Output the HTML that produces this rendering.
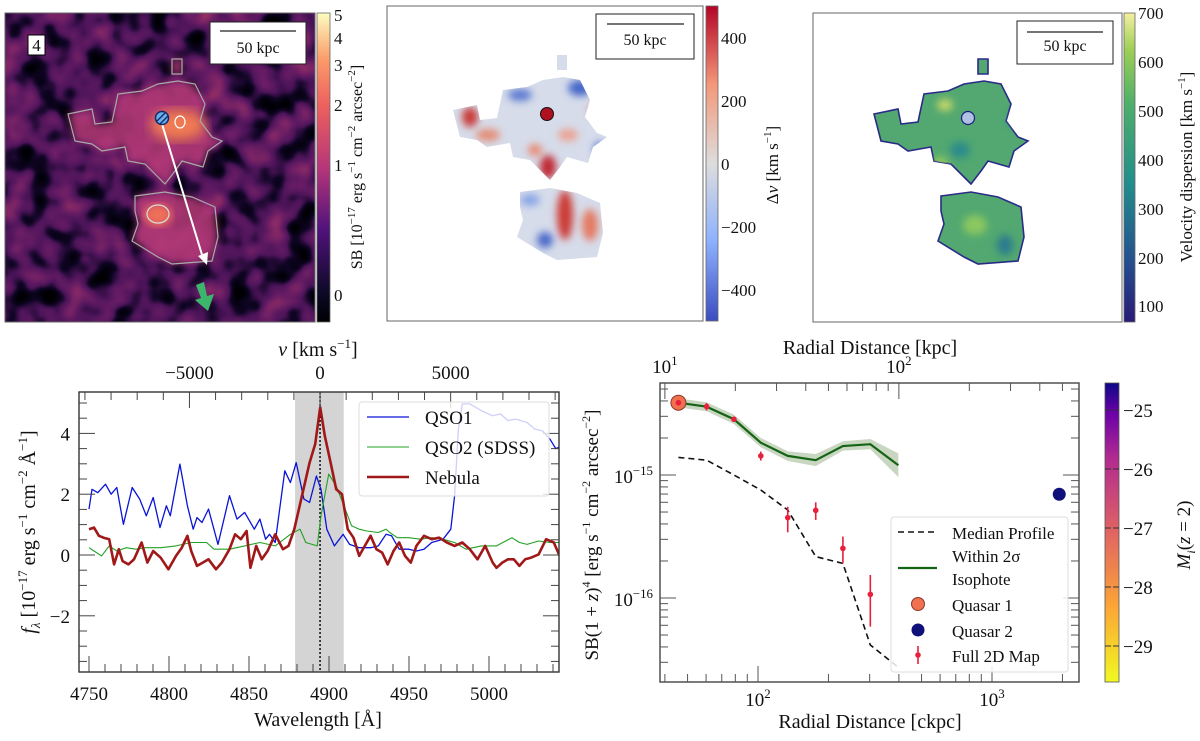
<!DOCTYPE html>
<html><head><meta charset="utf-8"><style>
html,body{margin:0;padding:0;background:#fff;}
svg{display:block;font-family:"Liberation Serif",serif;}
text{fill:#111;}
</style></head><body>
<svg id="fig" width="1200" height="741" viewBox="0 0 1200 741" xmlns="http://www.w3.org/2000/svg">
<defs>
<filter id="noise" x="0" y="0" width="1" height="1" color-interpolation-filters="sRGB">
<feTurbulence type="fractalNoise" baseFrequency="0.035" numOctaves="2" seed="7"/>
<feColorMatrix type="matrix" values="1 0 0 0 0 1 0 0 0 0 1 0 0 0 0 0 0 0 0 1"/>
<feComponentTransfer>
<feFuncR type="table" tableValues="0 0 0 0.06 0.3 0.4 0.5 0.62 0.75"/>
<feFuncG type="table" tableValues="0 0 0 0.02 0.08 0.11 0.15 0.2 0.25"/>
<feFuncB type="table" tableValues="0 0 0.02 0.14 0.35 0.39 0.4 0.38 0.36"/>
</feComponentTransfer>
</filter>
<filter id="blur4"><feGaussianBlur stdDeviation="4"/></filter>
<filter id="blur6"><feGaussianBlur stdDeviation="6"/></filter>
<linearGradient id="magma" x1="0" y1="1" x2="0" y2="0">
<stop offset="0" stop-color="#000004"/><stop offset="0.09" stop-color="#0b0924"/><stop offset="0.3" stop-color="#51127c"/><stop offset="0.5" stop-color="#b63679"/><stop offset="0.7" stop-color="#ee605e"/><stop offset="0.85" stop-color="#fb9b6a"/><stop offset="1" stop-color="#fcfdbf"/>
</linearGradient>
<linearGradient id="coolwarm" x1="0" y1="1" x2="0" y2="0">
<stop offset="0" stop-color="#3b4cc0"/><stop offset="0.25" stop-color="#8db0fe"/><stop offset="0.5" stop-color="#dddddd"/><stop offset="0.75" stop-color="#f4987a"/><stop offset="1" stop-color="#b40426"/>
</linearGradient>
<linearGradient id="viridis" x1="0" y1="1" x2="0" y2="0">
<stop offset="0" stop-color="#2a1a78"/><stop offset="0.2" stop-color="#23508f"/><stop offset="0.45" stop-color="#218e8c"/><stop offset="0.7" stop-color="#4cae6a"/><stop offset="0.88" stop-color="#9ccf55"/><stop offset="1" stop-color="#f3f0a0"/>
</linearGradient>
<linearGradient id="plasma" x1="0" y1="1" x2="0" y2="0">
<stop offset="0" stop-color="#f0f921"/><stop offset="0.25" stop-color="#fca636"/><stop offset="0.5" stop-color="#e16462"/><stop offset="0.75" stop-color="#b12a90"/><stop offset="0.9" stop-color="#6a00a8"/><stop offset="1" stop-color="#0d0887"/>
</linearGradient>
<path id="neb" d="M453,110 L477,105 L480,120 L497,118 L503,90 L527,87 L543,80 L563,77 L580,80 L590,100 L585,117 L597,133 L607,137 L593,147 L588,163 L567,157 L560,167 L550,180 L543,173 L530,160 L513,157 L510,143 L487,147 L477,140 L460,137 Z M520,192 L550,188 L577,193 L600,203 L603,233 L597,257 L557,260 L543,253 L517,237 L523,220 L520,207 Z M557,55 L567,55 L567,70 L557,70 Z"/>
<clipPath id="nebclip"><use href="#neb"/></clipPath>
<clipPath id="nebclip2"><use href="#neb" transform="translate(421,4)"/></clipPath>
<clipPath id="specclip"><rect x="79" y="392" width="480" height="280"/></clipPath>
<clipPath id="sbclip"><rect x="660" y="383" width="419" height="299"/></clipPath>
<clipPath id="p1clip"><rect x="5" y="13" width="310" height="309"/></clipPath>
</defs>

<!-- Panel 1: SB map -->
<g clip-path="url(#p1clip)">
<rect x="5" y="13" width="310" height="309" fill="#3a0f55"/>
<rect x="5" y="13" width="310" height="309" filter="url(#noise)"/>
<use href="#neb" transform="translate(-385,4)" fill="#b83a78" opacity="0.85" filter="url(#blur4)"/>
<ellipse cx="178" cy="125" rx="28" ry="16" fill="#f07a52" filter="url(#blur6)"/>
<ellipse cx="158" cy="215" rx="14" ry="11" fill="#ee7058" filter="url(#blur4)"/>
<use href="#neb" transform="translate(-385,4)" fill="none" stroke="#aaa" stroke-width="1.2"/>
<ellipse cx="180" cy="122" rx="5" ry="6" fill="none" stroke="#fff" stroke-width="1.2"/>
<ellipse cx="158" cy="214" rx="11" ry="9" fill="none" stroke="#ddd" stroke-width="1.2"/>
<line x1="162" y1="124" x2="203" y2="258" stroke="#fff" stroke-width="2"/>
<polygon points="198,256 207,265 208,252" fill="#fff"/>
<polygon points="196,285 204,282 207,296 214,294 208,311 195,300 201,298" fill="#3cb66a"/>
<circle cx="162" cy="118" r="6.5" fill="#6ab0e8" stroke="#102a70" stroke-width="1.5"/>
<line x1="157" y1="121" x2="165" y2="113" stroke="#102a70" stroke-width="1.3"/>
<line x1="160" y1="124" x2="168" y2="116" stroke="#102a70" stroke-width="1.3"/>
<rect x="28" y="35" width="17" height="20" fill="#fff" stroke="#000" stroke-width="1"/>
<text x="36.5" y="51" font-size="17" text-anchor="middle">4</text>
<rect x="210" y="22" width="96" height="42" fill="#fff" stroke="#222" stroke-width="1"/>
<line x1="220" y1="31" x2="296" y2="31" stroke="#222" stroke-width="1.2"/>
<text x="258" y="53" font-size="16" text-anchor="middle">50 kpc</text>
</g>
<rect x="5" y="13" width="310" height="309" fill="none" stroke="#666" stroke-width="1"/>
<rect x="317" y="13" width="13" height="309" fill="url(#magma)" stroke="#666" stroke-width="0.8"/>
<g font-size="17">
<text x="334" y="21">5</text><text x="334" y="44">4</text><text x="334" y="71">3</text><text x="334" y="111">2</text><text x="334" y="171">1</text><text x="334" y="301">0</text>
</g>
<text transform="translate(362,167) rotate(-90)" font-size="16" text-anchor="middle">SB [10<tspan dy="-7" font-size="11">−17</tspan><tspan dy="7"> erg s</tspan><tspan dy="-7" font-size="11">−1</tspan><tspan dy="7"> cm</tspan><tspan dy="-7" font-size="11">−2</tspan><tspan dy="7"> arcsec</tspan><tspan dy="-7" font-size="11">−2</tspan><tspan dy="7">]</tspan></text>

<!-- Panel 2: velocity map -->
<g>
<rect x="387" y="6" width="316" height="315" fill="#fff" stroke="#666" stroke-width="1"/>
<use href="#neb" fill="#d6dcea"/>
<g clip-path="url(#nebclip)" filter="url(#blur4)">
<ellipse cx="470" cy="117" rx="8" ry="10" fill="#c83a38"/>
<ellipse cx="580" cy="88" rx="12" ry="8" fill="#4466c8"/>
<ellipse cx="520" cy="95" rx="12" ry="6" fill="#5a78d0"/>
<ellipse cx="548" cy="167" rx="8" ry="12" fill="#c02830"/>
<ellipse cx="535" cy="150" rx="7" ry="6" fill="#e88870"/>
<ellipse cx="568" cy="135" rx="10" ry="6" fill="#eca090"/>
<ellipse cx="600" cy="150" rx="6" ry="8" fill="#4a6ad0"/>
<ellipse cx="565" cy="215" rx="8" ry="25" fill="#cc3a34"/>
<ellipse cx="590" cy="225" rx="8" ry="16" fill="#e47a62"/>
<ellipse cx="545" cy="240" rx="8" ry="8" fill="#4a68c8"/>
<ellipse cx="530" cy="200" rx="10" ry="6" fill="#88a4e8"/>
<ellipse cx="488" cy="135" rx="12" ry="6" fill="#e48a72"/>
<ellipse cx="595" cy="110" rx="6" ry="5" fill="#e06050"/>
</g>
<circle cx="547" cy="114" r="6.5" fill="#b01020" stroke="#111" stroke-width="1"/>
<rect x="596" y="14" width="98" height="45" fill="#fff" stroke="#222" stroke-width="1"/>
<line x1="607" y1="24" x2="684" y2="24" stroke="#222" stroke-width="1.2"/>
<text x="645" y="45" font-size="16" text-anchor="middle">50 kpc</text>
</g>
<rect x="706" y="6" width="12" height="315" fill="url(#coolwarm)" stroke="#666" stroke-width="0.8"/>
<g font-size="17">
<text x="721" y="44">400</text><text x="721" y="107">200</text><text x="721" y="170">0</text><text x="721" y="233">−200</text><text x="721" y="296">−400</text>
</g>
<text transform="translate(778,165) rotate(-90)" font-size="17" text-anchor="middle">Δ<tspan font-style="italic">v</tspan> [km s<tspan dy="-7" font-size="11">−1</tspan><tspan dy="7">]</tspan></text>

<!-- Panel 3: dispersion map -->
<g>
<rect x="813" y="13" width="309" height="309" fill="#fff" stroke="#666" stroke-width="1"/>
<use href="#neb" transform="translate(421,4)" fill="#52a870" stroke="#2a2a88" stroke-width="1.6"/>
<g clip-path="url(#nebclip2)" filter="url(#blur4)">
<ellipse cx="960" cy="150" rx="10" ry="8" fill="#2a8a8c"/>
<ellipse cx="945" cy="105" rx="8" ry="6" fill="#c8d868"/>
<ellipse cx="975" cy="225" rx="12" ry="10" fill="#8cc860"/>
<ellipse cx="1005" cy="245" rx="8" ry="10" fill="#2a7a90"/>
<ellipse cx="940" cy="165" rx="8" ry="8" fill="#98cc58"/>
<ellipse cx="1015" cy="120" rx="8" ry="8" fill="#3a9488"/>
</g>
<circle cx="968" cy="118" r="6.5" fill="#b0c0e0" stroke="#1a2080" stroke-width="1.2"/>
<rect x="1017" y="21" width="96" height="43" fill="#fff" stroke="#222" stroke-width="1"/>
<line x1="1027" y1="32" x2="1103" y2="32" stroke="#222" stroke-width="1.2"/>
<text x="1065" y="51" font-size="16" text-anchor="middle">50 kpc</text>
</g>
<rect x="1124" y="13" width="11" height="309" fill="url(#viridis)" stroke="#666" stroke-width="0.8"/>
<g font-size="17">
<text x="1138" y="19">700</text><text x="1138" y="68">600</text><text x="1138" y="117">500</text><text x="1138" y="166">400</text><text x="1138" y="215">300</text><text x="1138" y="264">200</text><text x="1138" y="312">100</text>
</g>
<text transform="translate(1192,167) rotate(-90)" font-size="17" text-anchor="middle">Velocity dispersion [km s<tspan dy="-7" font-size="11">−1</tspan><tspan dy="7">]</tspan></text>

<!-- Spectrum -->
<g id="spec"></g>
<!-- SB profile -->
<g id="sb"></g>
</svg>

<script>
// ---------- Spectrum data ----------
const qso1Wave = [4750.0,4751.9,4755.5,4760.3,4763.8,4767.4,4771.5,4777.0,4781.7,4785.8,4790.1,4794.4,4798.4,4800.8,4806.8,4811.5,4815.1,4817.5,4820.6,4824.7,4830.6,4837.8,4842.5,4847.3,4853.3,4856.8,4860.4,4862.8,4866.4,4872.4,4875.9,4879.5,4884.3,4887.9,4892.1,4895.0,4898.6,4903.4,4908.8,4912.9,4918.9,4926.0,4930.8,4935.6,4939.1,4943.9,4949.9,4954.6,4959.4,4964.2,4971.3,4976.1,4978.5,4980.9,4983.3,4988.0,4995.2,5002.3,5007.1,5011.9,5016.6,5023.8,5028.6,5033.3,5038.1,5041.7,5044.1];
const qso1Flux = [1.51,2.16,2.05,2.33,2.0,2.22,1.01,2.22,1.84,1.29,1.89,0.9,1.62,1.29,2.99,1.62,0.85,1.23,1.07,1.51,0.35,1.95,1.18,1.4,0.85,1.18,0.52,0.68,0.41,2.77,2.38,3.04,1.84,1.73,2.6,2.16,0.85,0.3,0.68,0.35,0.24,0.24,0.3,0.68,0.63,0.19,0.19,0.13,0.19,0.41,0.52,0.85,1.95,4.14,4.97,4.97,4.75,4.58,4.64,4.42,4.47,4.36,4.14,4.09,3.81,3.5,3.55];
const qso2Wave = [4750.0,4753.1,4757.9,4762.6,4767.4,4773.4,4779.3,4785.3,4794.8,4804.4,4813.9,4823.5,4828.2,4837.8,4847.3,4856.8,4866.4,4875.9,4881.9,4885.5,4892.6,4895.0,4899.8,4904.5,4909.3,4914.1,4918.9,4923.6,4930.8,4935.6,4938.0,4942.7,4949.9,4957.0,4964.2,4971.3,4978.5,4985.6,4995.2,5004.7,5014.3,5019.0,5023.8,5031.0,5038.1,5044.1];
const qso2Flux = [0.24,0.13,-0.03,0.3,0.13,0.24,0.19,0.24,0.24,0.3,0.41,0.41,0.19,0.19,0.3,0.41,0.3,0.68,0.85,0.41,0.3,1.29,2.66,2.27,1.62,0.96,0.85,0.79,0.74,0.85,0.74,0.57,0.57,0.52,0.57,0.52,0.41,0.19,0.3,0.3,0.57,0.41,0.35,0.46,0.41,0.41];
const nebWave = [4750.0,4753.1,4756.2,4759.1,4762.6,4765.7,4768.6,4771.0,4774.6,4778.1,4782.9,4786.5,4790.1,4794.8,4799.6,4804.4,4808.0,4811.5,4813.9,4817.5,4821.1,4824.7,4829.4,4833.0,4837.8,4841.3,4844.9,4848.5,4850.9,4854.5,4858.0,4861.6,4866.4,4871.2,4874.7,4878.3,4883.1,4887.9,4891.4,4894.5,4897.4,4901.0,4904.5,4908.1,4911.7,4915.3,4918.9,4922.4,4926.0,4929.6,4933.2,4936.7,4940.3,4943.9,4947.5,4951.1,4954.6,4959.4,4964.2,4968.9,4973.7,4978.5,4983.3,4988.0,4992.8,4997.6,5002.3,5004.7,5008.3,5011.9,5015.5,5019.0,5022.6,5026.2,5031.0,5035.7,5040.5,5044.1];
const nebFlux = [0.85,0.9,0.63,0.57,0.52,-0.31,0.19,-0.2,-0.31,-0.14,0.41,-0.25,0.13,-0.09,-0.47,-0.03,0.24,0.63,0.13,-0.36,-0.25,-0.14,-0.47,-0.25,0.19,0.68,0.52,0.79,-0.42,0.3,-0.14,0.13,0.68,0.19,0.3,0.85,1.95,3.04,3.65,4.86,3.92,3.04,2.16,2.0,0.85,0.57,-0.03,0.3,0.63,0.19,0.08,-0.31,0.13,0.41,-0.03,-0.25,0.3,0.63,0.52,0.57,0.41,0.3,0.41,0.19,-0.14,0.3,-0.25,-0.42,-0.25,-0.14,-0.14,-0.36,-0.14,-0.09,0.02,0.52,0.41,-0.03];
const waveTicks = [4750,4800,4850,4900,4950,5000];
const fluxTicks = [-2,0,2,4];
const velTicks = [-5000,0,5000];
const lambda0 = 4894.4;
const bandLo = 4878.8, bandHi = 4909.2;

// ---------- SB profile data ----------
const isoR = [45.7,60.3,78.9,102.8,134,176.5,230.6,302,398];
const isoSB = [3.87e-15,3.59e-15,2.84e-15,1.83e-15,1.43e-15,1.32e-15,1.72e-15,1.78e-15,1.2e-15];
const isoLo = [3.55e-15,3.3e-15,2.6e-15,1.68e-15,1.3e-15,1.18e-15,1.58e-15,1.62e-15,0.96e-15];
const isoHi = [4.2e-15,3.9e-15,3.1e-15,2.0e-15,1.56e-15,1.48e-15,1.88e-15,1.96e-15,1.5e-15];
const medR = [45.7,60.3,78.9,102.8,134,176.5,230.6,302,398];
const medSB = [1.39e-15,1.32e-15,1.0e-15,7.55e-16,5.19e-16,2.17e-16,1.91e-16,4.15e-17,2.73e-17];
const mapR = [45.7,60.3,78.9,102.8,134,176.5,230.6,302];
const mapSB = [3.87e-15,3.6e-15,2.84e-15,1.43e-15,4.5e-16,5.16e-16,2.53e-16,1.07e-16];
const mapLo = [3.7e-15,3.35e-15,2.7e-15,1.31e-15,3.42e-16,4.31e-16,1.91e-16,5.85e-17];
const mapHi = [4.0e-15,3.85e-15,2.98e-15,1.55e-15,5.52e-16,6.0e-16,3.16e-16,1.54e-16];
const q1R = 45.7, q1SB = 3.87e-15;
const q2R = 1938, q2SB = 6.97e-16;
const magTicks = [-25,-26,-27,-28,-29];

const NS = 'http://www.w3.org/2000/svg';
function mk(tag, attrs, parent) {
  const e = document.createElementNS(NS, tag);
  for (const k in attrs) e.setAttribute(k, attrs[k]);
  parent.appendChild(e);
  return e;
}
function sup(parent, x, y, base, exp, size, anchor) {
  const t = mk('text', {x: x, y: y, 'font-size': size, 'text-anchor': anchor || 'middle'}, parent);
  t.appendChild(document.createTextNode(base));
  const s = mk('tspan', {dy: -8, 'font-size': size * 0.68}, t);
  s.textContent = exp;
  return t;
}

// ===== Spectrum =====
const spec = document.getElementById('spec');
const SX0 = 79, SX1 = 559, SY0 = 392, SY1 = 672;
const xS = l => 89 + (l - 4750) * 1.6;
const yS = f => 555 - f * 30.4;
const lamFromV = v => lambda0 * (1 + v / 299792.458);

const band = mk('rect', {x: xS(bandLo), y: SY0, width: xS(bandHi) - xS(bandLo), height: SY1 - SY0, fill: '#d4d4d4'}, spec);


const dot = mk('line', {x1: xS(lambda0), x2: xS(lambda0), y1: SY0, y2: SY1, stroke: '#000', 'stroke-width': 1.4, 'stroke-dasharray': '2,2'}, spec);



function poly(ws, fs, color, width, name) {
  const pts = ws.map((w, i) => xS(w).toFixed(1) + ',' + yS(fs[i]).toFixed(1)).join(' ');
  const p = mk('polyline', {points: pts, fill: 'none', stroke: color, 'stroke-width': width, 'stroke-linejoin': 'round', 'clip-path': 'url(#specclip)'}, spec);
  
  
}
poly(qso1Wave, qso1Flux, '#0a14d8', 1.3, 'qso1-line');
poly(qso2Wave, qso2Flux, '#22a022', 1.1, 'qso2-line');
poly(nebWave, nebFlux, '#a01818', 2.6, 'nebula-line');

const frame = mk('rect', {x: SX0, y: SY0, width: SX1 - SX0, height: SY1 - SY0, fill: 'none', stroke: '#333', 'stroke-width': 1.4}, spec);


for (let l = 4750; l <= 5040; l += 10) {
  const maj = l % 50 === 0;
  mk('line', {x1: xS(l), x2: xS(l), y1: SY1, y2: SY1 - (maj ? 16 : 8), stroke: '#444', 'stroke-width': 1}, spec);
}
waveTicks.forEach(l => {
  const t = mk('text', {x: xS(l), y: 700, 'font-size': 19, 'text-anchor': 'middle'}, spec);
  t.textContent = l;
  
  
});
for (let f = -3.5; f <= 5.0; f += 0.5) {
  const maj = Math.abs(f % 2) < 1e-9;
  mk('line', {x1: SX0, x2: SX0 + (maj ? 16 : 8), y1: yS(f), y2: yS(f), stroke: '#444', 'stroke-width': 1}, spec);
  mk('line', {x1: SX1, x2: SX1 - (maj ? 16 : 8), y1: yS(f), y2: yS(f), stroke: '#444', 'stroke-width': 1}, spec);
}
fluxTicks.forEach(f => {
  const t = mk('text', {x: 70, y: yS(f) + 7, 'font-size': 19, 'text-anchor': 'end'}, spec);
  t.textContent = f < 0 ? '−' + Math.abs(f) : String(f);
  
  
});
for (let v = -9000; v <= 9000; v += 1000) {
  const x = xS(lamFromV(v));
  if (x < SX0 || x > SX1) continue;
  const maj = v % 5000 === 0;
  mk('line', {x1: x, x2: x, y1: SY0, y2: SY0 + (maj ? 16 : 8), stroke: '#444', 'stroke-width': 1}, spec);
}
velTicks.forEach(v => {
  const t = mk('text', {x: xS(lamFromV(v)), y: 379, 'font-size': 19, 'text-anchor': 'middle'}, spec);
  t.textContent = v < 0 ? '−' + Math.abs(v) : String(v);
  
  
});
const vt = mk('text', {x: 318, y: 356, 'font-size': 20, 'text-anchor': 'middle'}, spec);
vt.innerHTML = '<tspan font-style="italic">v</tspan> [km s<tspan dy="-8" font-size="13">−1</tspan><tspan dy="8">]</tspan>';


const xt = mk('text', {x: 318, y: 726, 'font-size': 20, 'text-anchor': 'middle'}, spec);
xt.textContent = 'Wavelength [Å]';


const yt = mk('text', {transform: 'translate(35,532) rotate(-90)', 'font-size': 20, 'text-anchor': 'middle'}, spec);
yt.innerHTML = '<tspan font-style="italic">f</tspan><tspan font-style="italic" font-size="13" dy="5">λ</tspan><tspan dy="-5"> [10</tspan><tspan dy="-8" font-size="13">−17</tspan><tspan dy="8"> erg s</tspan><tspan dy="-8" font-size="13">−1</tspan><tspan dy="8"> cm</tspan><tspan dy="-8" font-size="13">−2</tspan><tspan dy="8"> Å</tspan><tspan dy="-8" font-size="13">−1</tspan><tspan dy="8">]</tspan>';



const lg = mk('g', {}, spec);


mk('rect', {x: 359, y: 402, width: 190, height: 94, rx: 3, fill: 'rgba(255,255,255,0.8)', stroke: '#ddd', 'stroke-width': 1}, lg);
[['QSO1', '#0a14d8', 1.3, 417], ['QSO2 (SDSS)', '#22a022', 1.1, 447], ['Nebula', '#a01818', 2.6, 477]].forEach(e => {
  const g = mk('g', {}, lg);
  
  
  mk('line', {x1: 367, x2: 409, y1: e[3], y2: e[3], stroke: e[1], 'stroke-width': e[2]}, g);
  const t = mk('text', {x: 425, y: e[3] + 7, 'font-size': 19}, g);
  t.textContent = e[0];
});

// ===== SB profile =====
const sb = document.getElementById('sb');
const RX0 = 660, RX1 = 1079, RY0 = 383, RY1 = 682;
const xR = r => 758 + (Math.log10(r) - 2) * 234;
const yR = s => 475 - (Math.log10(s) + 15) * 123;

const bandPts = isoR.map((r, i) => xR(r) + ',' + yR(isoHi[i])).concat(isoR.slice().reverse().map((r, i) => xR(r) + ',' + yR(isoLo[isoLo.length - 1 - i])));
const iso = mk('polygon', {points: bandPts.join(' '), fill: '#b7c9ae', opacity: 0.75}, sb);


const isoL = mk('polyline', {points: isoR.map((r, i) => xR(r) + ',' + yR(isoSB[i])).join(' '), fill: 'none', stroke: '#146414', 'stroke-width': 2.2}, sb);


const med = mk('polyline', {points: medR.map((r, i) => xR(r) + ',' + yR(medSB[i])).join(' '), fill: 'none', stroke: '#111', 'stroke-width': 1.6, 'stroke-dasharray': '6,4', 'clip-path': 'url(#sbclip)'}, sb);


const q1 = mk('circle', {cx: xR(q1R), cy: yR(q1SB), r: 7.5, fill: '#f07050', stroke: '#8a3a2a', 'stroke-width': 1}, sb);


mapR.forEach((r, i) => {
  const g = mk('g', {}, sb);
  
  
  mk('line', {x1: xR(r), x2: xR(r), y1: yR(mapLo[i]), y2: yR(mapHi[i]), stroke: '#e8203c', 'stroke-width': 1.6}, g);
  mk('circle', {cx: xR(r), cy: yR(mapSB[i]), r: 2.8, fill: '#e8203c'}, g);
});
const q2 = mk('circle', {cx: xR(q2R), cy: yR(q2SB), r: 6.5, fill: '#10107a'}, sb);



const fr2 = mk('rect', {x: RX0, y: RY0, width: RX1 - RX0, height: RY1 - RY0, fill: 'none', stroke: '#444', 'stroke-width': 1.4}, sb);


for (let d = 10; d <= 1000; d *= 10) {
  for (let m = 1; m <= 9; m++) {
    const r = m * d, x = xR(r);
    if (x < RX0 || x > RX1) continue;
    const maj = m === 1;
    mk('line', {x1: x, x2: x, y1: RY1, y2: RY1 - (maj ? 16 : 8), stroke: '#555', 'stroke-width': 1}, sb);
  }
}
sup(sb, xR(100), 706, '10', '2', 19);
sup(sb, xR(1000), 706, '10', '3', 19);
for (let d = 1; d <= 1000; d *= 10) {
  for (let m = 1; m <= 9; m++) {
    const k = m * d, x = xR(k * 4);
    if (x < RX0 || x > RX1) continue;
    const maj = m === 1;
    mk('line', {x1: x, x2: x, y1: RY0, y2: RY0 + (maj ? 16 : 8), stroke: '#555', 'stroke-width': 1}, sb);
  }
}
sup(sb, xR(40), 373, '10', '1', 19);
sup(sb, xR(400), 373, '10', '2', 19);
for (let e = -17; e <= -15; e++) {
  for (let m = 1; m <= 9; m++) {
    const s = m * Math.pow(10, e), y = yR(s);
    if (y < RY0 || y > RY1) continue;
    const maj = m === 1;
    mk('line', {x1: RX0, x2: RX0 + (maj ? 16 : 8), y1: y, y2: y, stroke: '#555', 'stroke-width': 1}, sb);
    mk('line', {x1: RX1, x2: RX1 - (maj ? 16 : 8), y1: y, y2: y, stroke: '#555', 'stroke-width': 1}, sb);
  }
}
sup(sb, 653, yR(1e-15) + 8, '10', '−15', 19, 'end');
sup(sb, 653, yR(1e-16) + 8, '10', '−16', 19, 'end');
const sbt = mk('text', {x: 870, y: 354, 'font-size': 20, 'text-anchor': 'middle'}, sb);
sbt.textContent = 'Radial Distance [kpc]';


const sbx = mk('text', {x: 870, y: 728, 'font-size': 20, 'text-anchor': 'middle'}, sb);
sbx.textContent = 'Radial Distance [ckpc]';


const sby = mk('text', {transform: 'translate(598,535) rotate(-90)', 'font-size': 19, 'text-anchor': 'middle'}, sb);
sby.innerHTML = 'SB(1 + <tspan font-style="italic">z</tspan>)<tspan dy="-8" font-size="12">4</tspan><tspan dy="8"> [erg s</tspan><tspan dy="-8" font-size="12">−1</tspan><tspan dy="8"> cm</tspan><tspan dy="-8" font-size="12">−2</tspan><tspan dy="8"> arcsec</tspan><tspan dy="-8" font-size="12">−2</tspan><tspan dy="8">]</tspan>';



const lg2 = mk('g', {}, sb);


mk('rect', {x: 891, y: 517, width: 177, height: 155, rx: 3, fill: 'rgba(255,255,255,0.85)', stroke: '#ddd', 'stroke-width': 1}, lg2);
mk('line', {x1: 898, x2: 937, y1: 532, y2: 532, stroke: '#111', 'stroke-width': 1.6, 'stroke-dasharray': '6,4'}, lg2);
mk('line', {x1: 898, x2: 937, y1: 568, y2: 568, stroke: '#146414', 'stroke-width': 2.2}, lg2);
mk('circle', {cx: 918, cy: 604, r: 6.5, fill: '#f07050', stroke: '#8a3a2a', 'stroke-width': 1}, lg2);
mk('circle', {cx: 918, cy: 630, r: 6.5, fill: '#10107a'}, lg2);
mk('line', {x1: 918, x2: 918, y1: 646, y2: 664, stroke: '#e8203c', 'stroke-width': 1.6}, lg2);
mk('circle', {cx: 918, cy: 655, r: 2.8, fill: '#e8203c'}, lg2);
[['Median Profile', 539], ['Within 2σ', 562], ['Isophote', 585], ['Quasar 1', 611], ['Quasar 2', 637], ['Full 2D Map', 662]].forEach(e => {
  const t = mk('text', {x: 952, y: e[1], 'font-size': 17}, lg2);
  t.textContent = e[0];
  
  
});

const cb = mk('rect', {x: 1105, y: 383, width: 14, height: 299, fill: 'url(#plasma)', stroke: '#555', 'stroke-width': 0.8}, sb);


const yM = m => 410 + (-25 - m) * 59;
magTicks.forEach(m => {
  mk('line', {x1: 1105, x2: 1111, y1: yM(m), y2: yM(m), stroke: '#333'}, sb);
  mk('line', {x1: 1113, x2: 1119, y1: yM(m), y2: yM(m), stroke: '#333'}, sb);
  const t = mk('text', {x: 1123, y: yM(m) + 7, 'font-size': 19}, sb);
  t.textContent = '−' + Math.abs(m);
  
  
});
const cbl = mk('text', {transform: 'translate(1190,535) rotate(-90)', 'font-size': 19, 'text-anchor': 'middle'}, sb);
cbl.innerHTML = '<tspan font-style="italic">M</tspan><tspan font-style="italic" font-size="12" dy="5">i</tspan><tspan dy="-5">(</tspan><tspan font-style="italic">z</tspan> = 2)';


</script>
</body></html>
